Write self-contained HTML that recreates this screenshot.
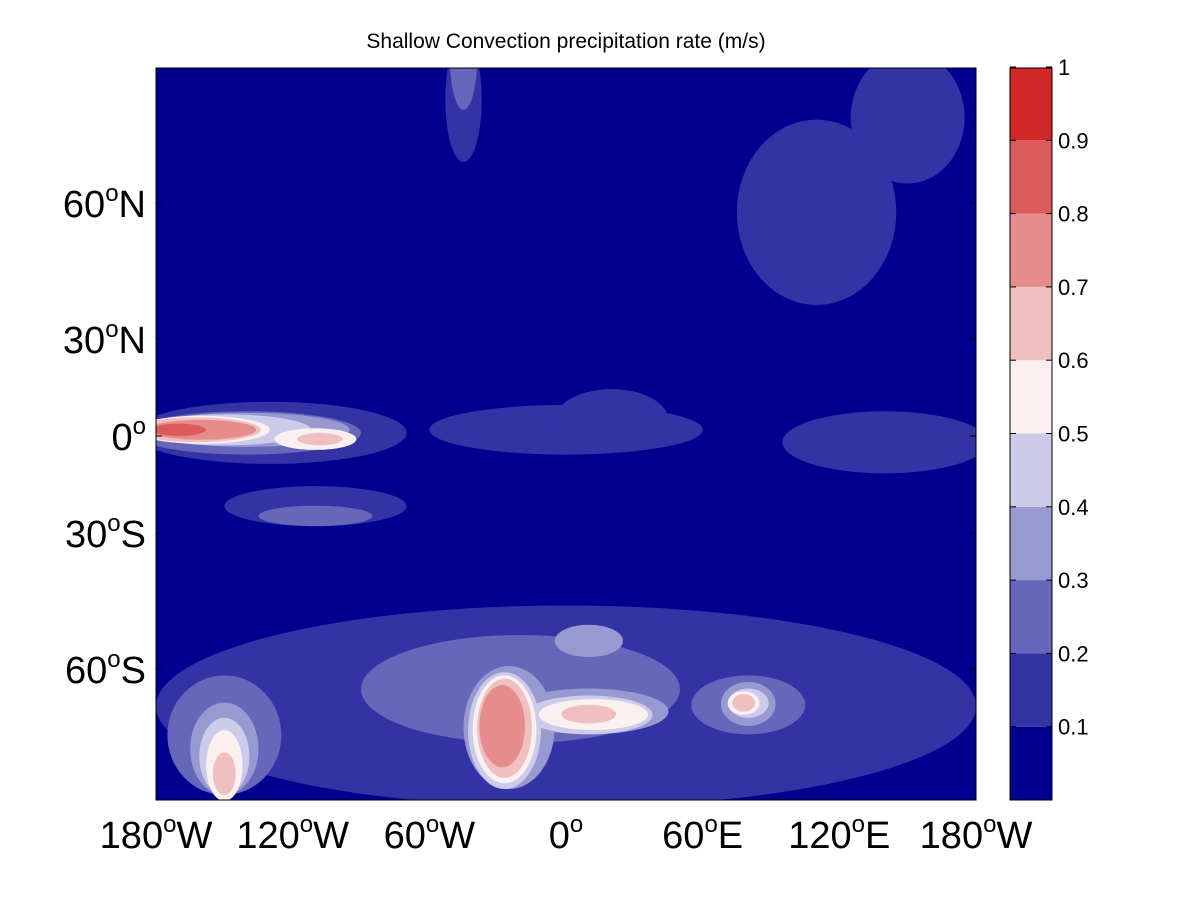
<!DOCTYPE html>
<html><head><meta charset="utf-8"><style>
body{margin:0;background:#fff;}
svg text{font-family:"Liberation Sans",sans-serif;}
</style></head><body>
<svg id="chart" width="1200" height="900" viewBox="0 0 1200 900" xmlns="http://www.w3.org/2000/svg">
<rect width="1200" height="900" fill="#fff"/>
<text x="566" y="48" font-size="21" text-anchor="middle">Shallow Convection precipitation rate (m/s)</text>
<defs><clipPath id="mapclip"><rect x="156" y="68" width="820" height="732"/></clipPath></defs>
<g id="map" clip-path="url(#mapclip)">
<rect x="156" y="68" width="820" height="732" fill="#000090"/>
</g>
<rect x="156" y="68" width="820" height="732" fill="none" stroke="#000" stroke-width="1"/>
<g id="xaxis"></g>
<g id="yaxis"></g>
<g id="cbar"></g>
</svg>
<script>
const colors=["#000090","#3333a6","#6666bb","#9999d2","#ccccea","#faf0f0","#f0bfc0","#e68c8c","#db5b5b","#d22828"];
const cbarTicks=[0.1,0.2,0.3,0.4,0.5,0.6,0.7,0.8,0.9,1];
const lonTicks=[-180,-120,-60,0,60,120,180];
const lonNums=["180","120","60","0","60","120","180"];
const lonHem=["W","W","W","","E","E","W"];
const latTicks=[60,30,0,-30,-60];
const latNums=["60","30","0","30","60"];
const latHem=["N","N","","S","S"];
// patches: lon, lat, half-width (deg lon), half-height (deg lat), level index
const pLon=[0,-130,140,0,110,150,-45,20,-110,
  -140,-20,-150,80,-110,-45,
  -140,-25,-150,10,80,10,
  -150,-27,-150,10,80,
  -160,-110,-27,-150,12,78,
  -162,-108,-27,10,-150,78,
  -160,-28,-170];
const pLat=[-62,1,-2,2,55,70,72,5,-22,
  1,-62,-68,-65,-25,76,
  2,-67,-70,-66,-65,-55,
  2,-67.5,-71,-66.5,-65,
  2,-1,-67.5,-72,-66.5,-65,
  2,-1,-67.5,-66.5,-73,-65,
  2,-67.5,2];
const pRx=[180,60,45,60,35,25,8,25,40,
  50,70,25,25,25,6,
  45,20,15,35,12,15,
  38,16,11,28,9,
  30,18,14,8,24,7,
  28,10,12,12,5,5,
  24,10,12];
const pRy=[14,10,10,8,16,7,6,10,6,
  7,8,7,4,3,4,
  5.5,7.5,5,3,3,3,
  5,7,4,2.5,2,
  4.5,3.5,6.5,3.5,2,1.6,
  4,2,6,1.2,2,1.2,
  3.2,5,2];
const pLev=[1,1,1,1,1,1,1,1,1,
  2,2,2,2,2,2,
  3,3,3,3,3,3,
  4,4,4,4,4,
  5,5,5,5,5,5,
  6,6,6,6,6,6,
  7,7,8];
const NS="http://www.w3.org/2000/svg";
const X0=156,X1=976,Y0=68,Y1=800;
function xs(lon){return X0+(lon+180)/360*(X1-X0);}
function ys(lat){const r=lat*Math.PI/180;return 436-177*Math.log(Math.tan(Math.PI/4+r/2));}
function cy(v){return 800-(v/1.0)*733;}
function mk(tag,attrs,parent){const e=document.createElementNS(NS,tag);for(const k in attrs)e.setAttribute(k,attrs[k]);parent.appendChild(e);return e;}
const map=document.getElementById('map');
const order=pLev.map((l,i)=>i).sort((a,b)=>pLev[a]-pLev[b]);
order.forEach(i=>{
  const yt=ys(Math.min(85,pLat[i]+pRy[i])),yb=ys(Math.max(-85,pLat[i]-pRy[i]));
  const e=mk('ellipse',{cx:xs(pLon[i]),cy:(yt+yb)/2,rx:pRx[i]/360*(X1-X0),ry:(yb-yt)/2,fill:colors[pLev[i]]},map);
  
  
});
function degLabel(parent,x,y,anchor,num,hem){
  const tx=mk('text',{x:x,y:y,'font-size':38,'text-anchor':anchor},parent);
  tx.appendChild(document.createTextNode(num));
  const s=mk('tspan',{'font-size':24,dy:-16},tx);s.textContent='o';
  const h=mk('tspan',{dy:16},tx);h.textContent=hem;
  return tx;
}
const xa=document.getElementById('xaxis');
lonTicks.forEach((t,i)=>{
  const tx=degLabel(xa,xs(t),848,'middle',lonNums[i],lonHem[i]);
  
  
});
const ya=document.getElementById('yaxis');
latTicks.forEach((t,i)=>{
  const tx=degLabel(ya,146,ys(t)+14,'end',latNums[i],latHem[i]);
  
  
  mk('line',{x1:X0,x2:X0+6,y1:ys(t),y2:ys(t),stroke:'#000'},ya);
  mk('line',{x1:X1,x2:X1-6,y1:ys(t),y2:ys(t),stroke:'#000'},ya);
});
const cb=document.getElementById('cbar');
for(let k=0;k<10;k++){
  const top=Math.max(Y0,cy((k+1)/10)),bot=Math.min(Y1,cy(k/10));
  const r=mk('rect',{x:1010,y:top,width:42,height:bot-top,fill:colors[k]},cb);
  
  
}
mk('rect',{x:1010,y:Y0,width:42,height:Y1-Y0,fill:'none',stroke:'#000'},cb);
cbarTicks.forEach(v=>{
  const y=cy(v);
  mk('line',{x1:1010,x2:1016,y1:y,y2:y,stroke:'#000'},cb);
  mk('line',{x1:1052,x2:1046,y1:y,y2:y,stroke:'#000'},cb);
  const tx=mk('text',{x:1058,y:y+8,'font-size':22},cb);
  tx.textContent=String(v);
  
  
});
</script>
</body></html>
